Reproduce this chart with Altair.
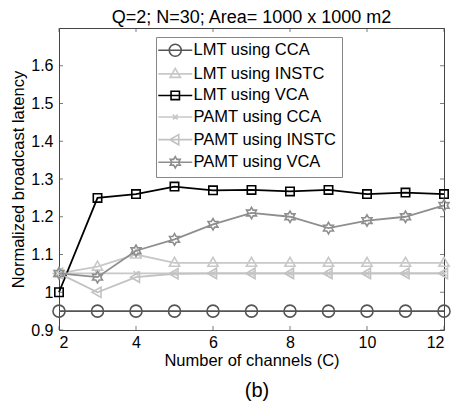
import math
import altair as alt
import pandas as pd

# ---------------- data ----------------
channels = [2, 3, 4, 5, 6, 7, 8, 9, 10, 11, 12]
series_names = ["LMT using CCA", "LMT using INSTC", "LMT using VCA",
                "PAMT using CCA", "PAMT using INSTC", "PAMT using VCA"]
lmt_cca = [0.95, 0.95, 0.95, 0.95, 0.95, 0.95, 0.95, 0.95, 0.95, 0.95, 0.95]
lmt_instc = [1.05, 1.068, 1.10, 1.078, 1.078, 1.078, 1.078, 1.078, 1.078, 1.078, 1.078]
lmt_vca = [1.00, 1.25, 1.26, 1.28, 1.27, 1.271, 1.267, 1.271, 1.26, 1.264, 1.26]
pamt_cca = [1.05, 1.05, 1.05, 1.05, 1.05, 1.05, 1.05, 1.05, 1.05, 1.05, 1.05]
pamt_instc = [1.05, 1.00, 1.04, 1.049, 1.05, 1.05, 1.05, 1.05, 1.05, 1.05, 1.05]
pamt_vca = [1.05, 1.04, 1.11, 1.14, 1.18, 1.21, 1.20, 1.17, 1.19, 1.20, 1.23]
x_tick_values = [2, 4, 6, 8, 10, 12]
y_tick_values = [0.9, 1.0, 1.1, 1.2, 1.3, 1.4, 1.5, 1.6]
title_text = "Q=2; N=30; Area= 1000 x 1000 m2"
x_title = "Number of channels (C)"
y_title = "Normalized broadcast latency"
caption = ["(b)"]

series_values = [lmt_cca, lmt_instc, lmt_vca, pamt_cca, pamt_instc, pamt_vca]
rows = []
for name, vals in zip(series_names, series_values):
    for c, v in zip(channels, vals):
        rows.append({"series": name, "channels": c, "latency": v})
df = pd.DataFrame(rows)

# ---------------- styles ----------------
FONT = "Liberation Sans"
colors = ["#555555", "#c8c8c8", "#000000", "#c8c8c8", "#c2c2c2", "#8e8e8e"]
W, H = 385, 302


def f(v):
    return f"{v:.3f}"


def circle(k):
    r = 1.0 * k
    return f"M{f(r)},0A{f(r)},{f(r)} 0 1,1 {f(-r)},0A{f(r)},{f(r)} 0 1,1 {f(r)},0Z"


def tri_up(k):
    s = 0.9 * k
    return f"M0,{f(-s)}L{f(0.95*s)},{f(0.65*s)}L{f(-0.95*s)},{f(0.65*s)}Z"


def square(k):
    h = 0.7 * k
    return f"M{f(-h)},{f(-h)}H{f(h)}V{f(h)}H{f(-h)}Z"


def xmark(k):
    s = 0.4 * k
    return f"M{f(-s)},{f(-s)}L{f(s)},{f(s)}M{f(-s)},{f(s)}L{f(s)},{f(-s)}"


def tri_left(k):
    s = 0.9 * k
    return f"M{f(-s)},0L{f(0.65*s)},{f(-0.95*s)}L{f(0.65*s)},{f(0.95*s)}Z"


def hexagram(k):
    R = 0.95 * k
    r = R / math.sqrt(3)
    pts = []
    for i in range(12):
        ang = math.radians(-90 + 30 * i)
        rad = R if i % 2 == 0 else r
        pts.append((rad * math.cos(ang), rad * math.sin(ang)))
    return "M" + "L".join(f"{f(x)},{f(y)}" for x, y in pts) + "Z"


makers = [circle, tri_up, square, xmark, tri_left, hexagram]
point_paths = [m(1.0) for m in makers]
LEG_SIZE = 196  # unit = 7px
leg_k = 6.0 / 7.0
leg_line = "M-2.43,0H2.43"
legend_paths = [leg_line + m(leg_k) for m in makers]

x_scale = alt.Scale(domain=[2, 12], nice=False, zero=False)
y_scale = alt.Scale(domain=[0.9, 1.7], nice=False, zero=False)

x_axis = alt.Axis(values=x_tick_values, ticks=False, domain=False, grid=False,
                  labelFontSize=16, labelFont=FONT, labelColor="#000", labelPadding=4,
                  title=x_title, titleFont=FONT, titleFontSize=16.5, titleFontWeight="normal",
                  titleColor="#000", titlePadding=2)
y_axis = alt.Axis(values=y_tick_values, ticks=False, domain=False, grid=False, format=".1~f",
                  labelFontSize=16, labelFont=FONT, labelColor="#000", labelPadding=6,
                  title=y_title, titleFont=FONT, titleFontSize=16.5, titleFontWeight="normal",
                  titleColor="#000", titlePadding=4)

layers = []
for i, name in enumerate(series_names):
    base = alt.Chart(df).transform_filter(alt.datum.series == name)
    line = base.mark_line(color=colors[i], strokeWidth=1.8).encode(
        x=alt.X("channels:Q", scale=x_scale, axis=x_axis),
        y=alt.Y("latency:Q", scale=y_scale, axis=y_axis),
    )
    pts = base.mark_point(shape=point_paths[i], size=144, filled=False, color=colors[i],
                          strokeWidth=1.6, opacity=1).encode(
        x=alt.X("channels:Q", scale=x_scale, axis=x_axis),
        y=alt.Y("latency:Q", scale=y_scale, axis=y_axis),
    )
    layers += [line, pts]

# inward ticks on all four sides
xt = pd.DataFrame({"v": x_tick_values})
yt = pd.DataFrame({"v": y_tick_values})
tick_col = "#444444"
for yy in [H - 2, 2]:
    layers.append(alt.Chart(xt).mark_tick(orient="vertical", size=4, thickness=1, color=tick_col).encode(
        x=alt.X("v:Q", scale=x_scale, axis=x_axis), y=alt.value(yy)))
for xx in [2, W - 2]:
    layers.append(alt.Chart(yt).mark_tick(orient="horizontal", size=4, thickness=1, color=tick_col).encode(
        y=alt.Y("v:Q", scale=y_scale, axis=y_axis), x=alt.value(xx)))

# legend-only layer
leg = alt.Legend(title=None, orient="none", legendX=97, legendY=9,
                 labelExpr="datum.label + '\u00a0\u00a0'")
legend_layer = alt.Chart(df).transform_filter("false").mark_point(
    filled=False, size=LEG_SIZE, strokeWidth=1.6, opacity=1).encode(
    x=alt.X("channels:Q", scale=x_scale, axis=x_axis),
    y=alt.Y("latency:Q", scale=y_scale, axis=y_axis),
    color=alt.Color("series:N", scale=alt.Scale(domain=series_names, range=colors), legend=leg),
    shape=alt.Shape("series:N", scale=alt.Scale(domain=series_names, range=legend_paths), legend=leg),
)
layers.append(legend_layer)

cap = alt.Chart(pd.DataFrame({"t": caption})).mark_text(
    font=FONT, fontSize=20, color="#000", align="center", baseline="alphabetic").encode(
    text="t:N", x=alt.value(198), y=alt.value(369))
layers.append(cap)

chart = alt.layer(*layers).properties(
    width=W, height=H,
    title=alt.Title(title_text, font=FONT, fontSize=18, fontWeight="normal", color="#000",
                    anchor="middle", offset=1),
    autosize=alt.AutoSizeParams(type="none"),
    padding={"left": 51, "top": 20, "right": 8, "bottom": 78},
).configure_view(stroke="#444444", strokeWidth=1).configure_legend(
    fillColor="#ffffff", strokeColor="#888888", padding=5, rowPadding=4.6,
    labelFont=FONT, labelFontSize=16.5, labelColor="#000", symbolSize=LEG_SIZE,
    symbolStrokeWidth=1.6, symbolOffset=6, labelOffset=10, cornerRadius=0,
)

chart.save("out.html", embed_options={"renderer": "svg", "actions": False})
